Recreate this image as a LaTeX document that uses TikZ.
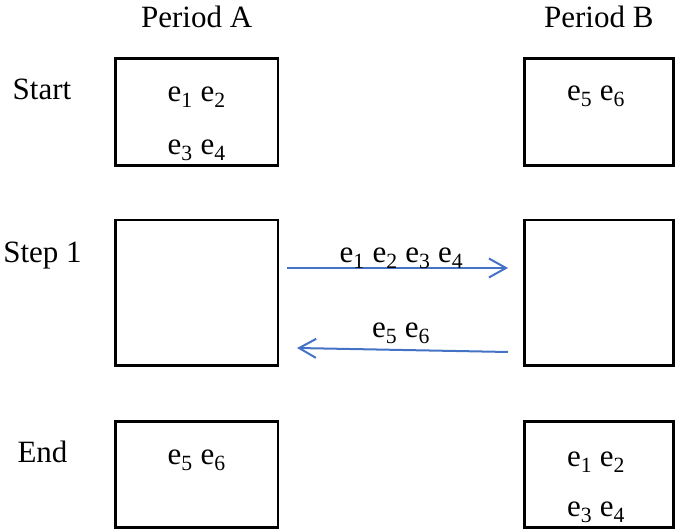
\documentclass[tikz,border=0pt]{standalone}
\usepackage{fontspec}
\setmainfont{Liberation Serif}
\usepackage{tikz}
\usetikzlibrary{arrows.meta, positioning}
\definecolor{flowblue}{RGB}{68,114,196}
\tikzset{>={Straight Barb[length=17pt,width=19pt]}}
\newcommand{\ev}[1]{e\textsubscript{#1}}

\begin{document}
\begin{tikzpicture}[x=1pt,y=1pt,
		every node/.style={font=\fontsize{31}{36}\selectfont, inner sep=0pt},
		boxA/.style={draw, line width=2.6pt, minimum width=162.5pt},
		boxB/.style={draw, line width=2.6pt, minimum width=149pt},
		txt/.style={anchor=base},
		flow/.style={draw=flowblue, line width=2pt, ->}]
		\useasboundingbox (0,0) rectangle (675,529);

		% column and row headings
		\node[txt] (pa) at (196.7,501) {Period A};
		\node[txt] (pb) at (598.8,501) {Period B};
		\node[txt] (start) at (42,429) {Start};
		\node[txt] (step) at (42.5,266) {Step 1};
		\node[txt] (end) at (42.5,66) {End};

		% boxes
		\node[boxA, minimum height=107pt] (sa) at (196.7,416.8) {};
		\node[boxB, minimum height=107pt] (sb) at (598.8,416.8) {};
		\node[boxA, minimum height=145.5pt] (ma) at (196.7,236.4) {};
		\node[boxB, minimum height=145.5pt] (mb) at (598.8,236.4) {};
		\node[boxA, minimum height=106.5pt] (ea) at (196.7,54.5) {};
		\node[boxB, minimum height=106.5pt] (eb) at (598.8,54.5) {};

		% contents
		\node[txt] (sa1) at (196.7,427) {\ev{1} \ev{2}};
		\node[txt] (sa2) at (196.7,374) {\ev{3} \ev{4}};
		\node[txt] (sb1) at (596,428) {\ev{5} \ev{6}};
		\node[txt] (ea1) at (196.7,64) {\ev{5} \ev{6}};
		\node[txt] (eb1) at (596,62) {\ev{1} \ev{2}};
		\node[txt] (eb2) at (596,12) {\ev{3} \ev{4}};

		% exchange at step 1
		\coordinate (fwdS) at (287,261);
		\coordinate (fwdE) at (508,261);
		\coordinate (backS) at (508,177);
		\coordinate (backE) at (297,181);
		\draw[flow] (fwdS) -- (fwdE);
		\draw[flow] (backS) -- (backE);
		\node[txt] (fwdlbl) at (401.5,266) {\ev{1} \ev{2} \ev{3} \ev{4}};
		\node[txt] (backlbl) at (401,191) {\ev{5} \ev{6}};
\end{tikzpicture}
\end{document}
